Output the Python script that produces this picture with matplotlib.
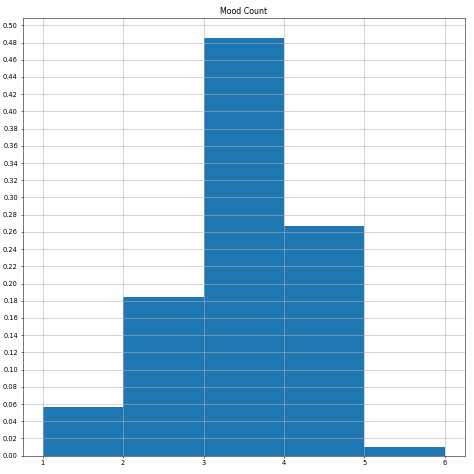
import matplotlib
matplotlib.use("Agg")
import matplotlib.pyplot as plt
import numpy as np

bin_edges = [1, 2, 3, 4, 5, 6]
densities = [0.0562, 0.184, 0.4848, 0.2668, 0.0101]

fig = plt.figure(figsize=(10, 10), dpi=47.4)
ax = fig.add_axes([0.0475, 0.0386, 0.981 - 0.0475, 0.962 - 0.0386])
ax.bar(bin_edges[:-1], densities, width=np.diff(bin_edges), align='edge', color='#1f77b4')
ax.set_xlim(0.75, 6.25)
ax.set_ylim(0, 0.5085)
ax.set_yticks(np.arange(0, 0.51, 0.02))
ax.set_xticks(bin_edges)
ax.grid(True)
ax.set_title("Mood Count")
fig.savefig("out.png", dpi=47.4)
